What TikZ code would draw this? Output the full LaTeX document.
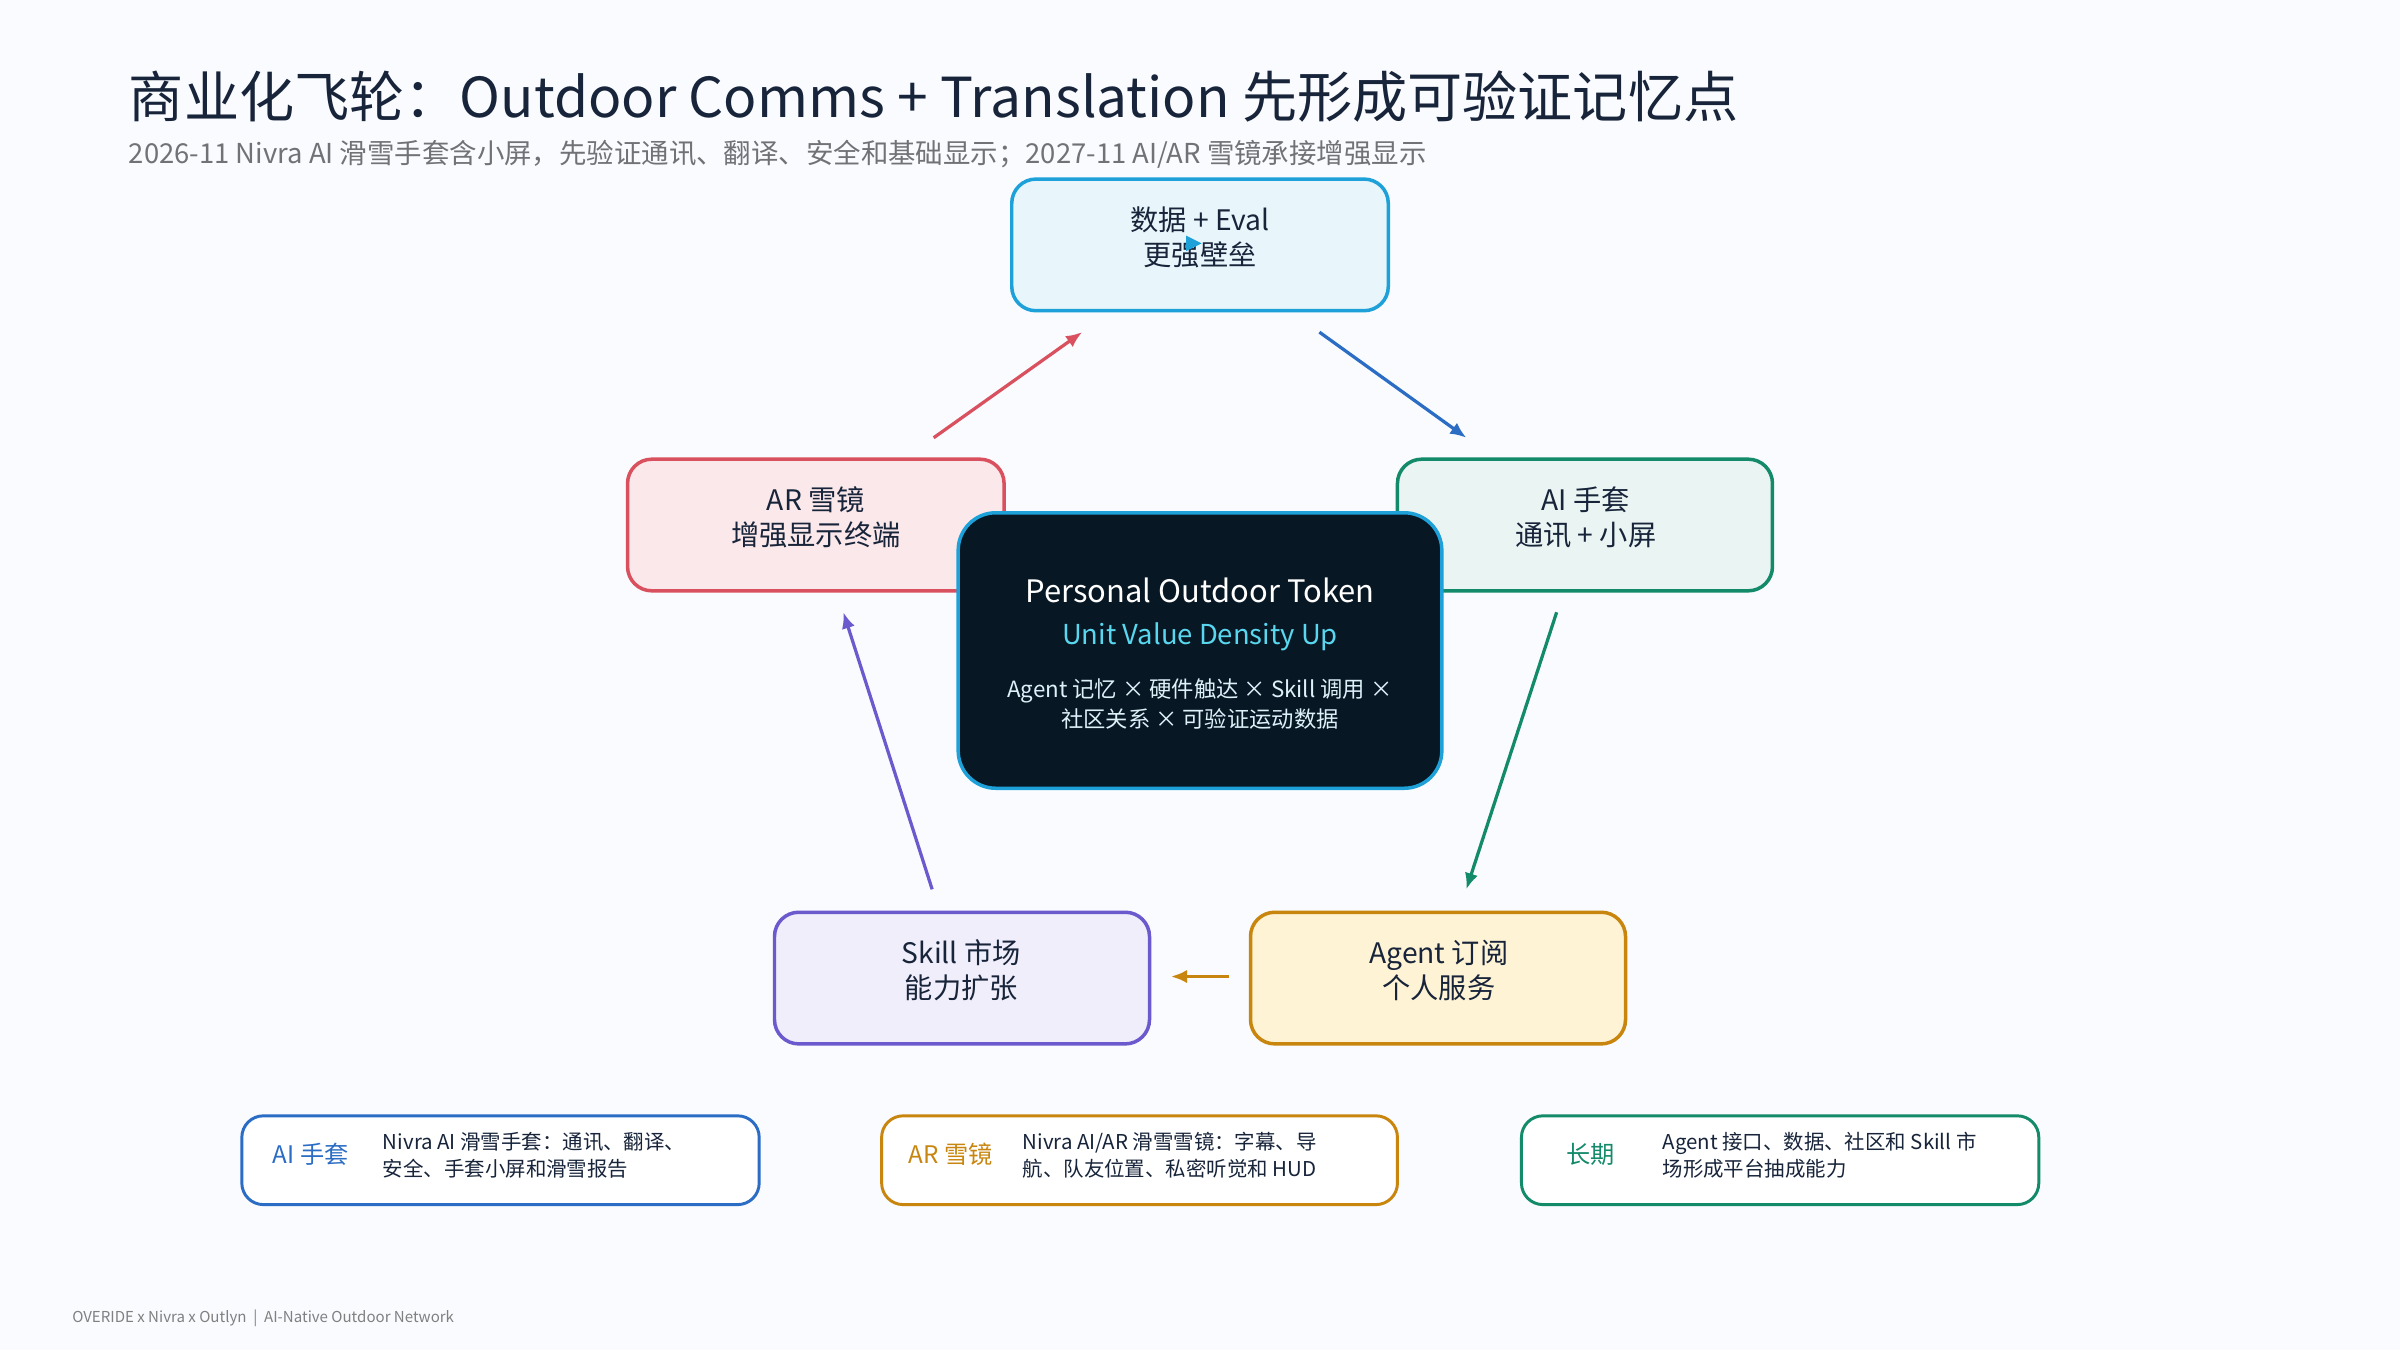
\documentclass[tikz,border=0pt]{standalone}
\usepackage{fontspec}
\setmainfont{Noto Sans CJK SC}
\usetikzlibrary{arrows.meta}
\definecolor{bg}{HTML}{F9FBFE}
\definecolor{ink}{HTML}{17243A}
\definecolor{cblue}{HTML}{1DA1D8}
\definecolor{cred}{HTML}{D9505E}
\definecolor{cgreen}{HTML}{138A6A}
\definecolor{cpurple}{HTML}{6A5ACD}
\definecolor{corange}{HTML}{C8860F}
\definecolor{dblue}{HTML}{2B6CC4}
\definecolor{navy}{HTML}{081724}
\definecolor{cream}{HTML}{FFF3D6}
\tikzset{x=0.02cm,y=-0.02cm,
 card/.style={draw,line width=1.3pt,rounded corners=9pt},
 lbl/.style={align=center,text=ink,font=\fontsize{10.5}{13}\selectfont},
 arr/.style={line width=1.2pt,-{Latex[length=6pt,width=5pt]}},
 note/.style={draw,line width=1.1pt,rounded corners=8pt,fill=white},
 notetxt/.style={align=left,text=ink,font=\fontsize{7.6}{10}\selectfont,anchor=west}}
\begin{document}
\begin{tikzpicture}
\fill[bg] (0,0) rectangle (1568,882);
\node[anchor=west,text=ink,font=\fontsize{20.5}{24}\selectfont] (title) at (78,63) {商业化飞轮：Outdoor Comms + Translation 先形成可验证记忆点};
\node[anchor=west,text=gray!85!ink,font=\fontsize{10.2}{12}\selectfont] (sub) at (78,101) {2026-11 Nivra AI 滑雪手套含小屏，先验证通讯、翻译、安全和基础显示；2027-11 AI/AR 雪镜承接增强显示};
% boxes
\draw[card,draw=cblue,fill=cblue!10] (661,117) rectangle (907,203);
\node[lbl] (data) at (784,155) {数据 + Eval\\更强壁垒};
\fill[cblue] (775,154) -- (785,159) -- (775,164) -- cycle;
\draw[card,draw=cred,fill=cred!13] (410,300) rectangle (656,386);
\node[lbl] (ar) at (533,338) {AR 雪镜\\增强显示终端};
\draw[card,draw=cgreen,fill=cgreen!9] (913,300) rectangle (1158,386);
\node[lbl] (ai) at (1036,338) {AI 手套\\通讯 + 小屏};
\draw[card,draw=cpurple,fill=cpurple!10] (506,596) rectangle (751,682);
\node[lbl] (skill) at (628,634) {Skill 市场\\能力扩张};
\draw[card,draw=corange,fill=cream] (817,596) rectangle (1062,682);
\node[lbl] (agent) at (940,634) {Agent 订阅\\个人服务};
% center
\draw[card,draw=cblue,fill=navy,rounded corners=14pt] (626,335) rectangle (942,515);
\node[text=white,font=\fontsize{11.5}{14}\selectfont] (tok) at (784,386) {Personal Outdoor Token};
\node[text=cblue!60!cyan!70!white,font=\fontsize{10.2}{12}\selectfont] (uv) at (784,416) {Unit Value Density Up};
\node[align=center,text=cblue!15!white,font=\fontsize{8.3}{11}\selectfont] (ag) at (784,460) {Agent 记忆 × 硬件触达 × Skill 调用 ×\\社区关系 × 可验证运动数据};
% arrows
\coordinate (a1) at (610,286); \coordinate (a2) at (707,217);
\coordinate (b1) at (862,217); \coordinate (b2) at (958,286);
\coordinate (c1) at (1017,400); \coordinate (c2) at (958,581);
\coordinate (d1) at (803,638); \coordinate (d2) at (765,638);
\coordinate (e1) at (609,581); \coordinate (e2) at (551,400);
\draw[arr,cred] (a1) -- (a2);
\draw[arr,dblue] (b1) -- (b2);
\draw[arr,cgreen] (c1) -- (c2);
\draw[arr,corange] (d1) -- (d2);
\draw[arr,cpurple] (e1) -- (e2);
% notes
\draw[note,draw=dblue] (158,729) rectangle (496,787);
\node[text=dblue,font=\fontsize{9}{11}\selectfont] (n1) at (203,754) {AI 手套};
\node[notetxt] (t1) at (244,755) {Nivra AI 滑雪手套：通讯、翻译、\\安全、手套小屏和滑雪报告};
\draw[note,draw=corange] (576,729) rectangle (913,787);
\node[text=corange,font=\fontsize{9}{11}\selectfont] (n2) at (621,754) {AR 雪镜};
\node[notetxt] (t2) at (662,755) {Nivra AI/AR 滑雪雪镜：字幕、导\\航、队友位置、私密听觉和 HUD};
\draw[note,draw=cgreen] (994,729) rectangle (1332,787);
\node[text=cgreen,font=\fontsize{9}{11}\selectfont] (n3) at (1039,754) {长期};
\node[notetxt] (t3) at (1080,755) {Agent 接口、数据、社区和 Skill 市\\场形成平台抽成能力};
\node[anchor=west,text=gray,font=\fontsize{5.6}{7}\selectfont] (foot) at (41,861) {OVERIDE x Nivra x Outlyn \ |\ \ AI-Native Outdoor Network};
\end{tikzpicture}
\end{document}
